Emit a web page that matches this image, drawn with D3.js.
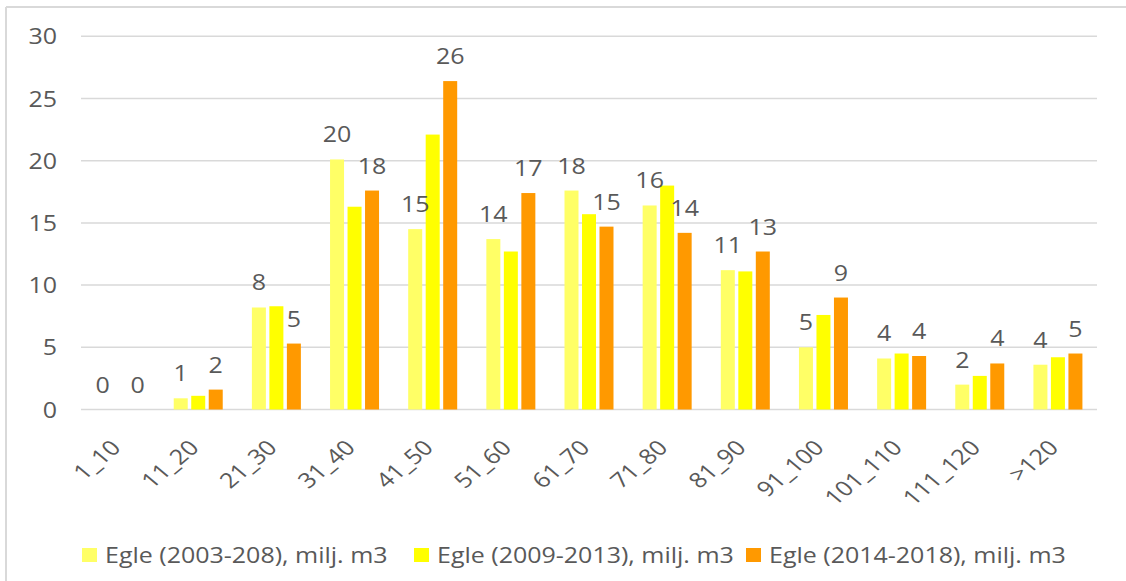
<!DOCTYPE html>
<html>
<head>
    <title>Egle by diameter class</title>
    <script src="https://d3js.org/d3.v7.min.js"></script>
    <style>
        body { margin: 0; background: #fff; }
        text { font-family: "Open Sans", sans-serif; fill: #595959; }
    </style>
</head>
<body>
    <div id="chart"></div>

    <script>
        const categories = ["1_10", "11_20", "21_30", "31_40", "41_50", "51_60", "61_70",
            "71_80", "81_90", "91_100", "101_110", "111_120", ">120"];

        const seriesNames = [
            "Egle (2003-208), milj. m3",
            "Egle (2009-2013), milj. m3",
            "Egle (2014-2018), milj. m3"
        ];

        const egle2003 = [0, 0.9, 8.2, 20.1, 14.5, 13.7, 17.6, 16.4, 11.2, 5.0, 4.1, 2.0, 3.6];
        const egle2009 = [0, 1.1, 8.3, 16.3, 22.1, 12.7, 15.7, 18.0, 11.1, 7.6, 4.5, 2.7, 4.2];
        const egle2014 = [0, 1.6, 5.3, 17.6, 26.4, 17.4, 14.7, 14.2, 12.7, 9.0, 4.3, 3.7, 4.5];

        const yTicks = [0, 5, 10, 15, 20, 25, 30];

        // the yellow series carries no data labels in the original
        const showLabel = [true, false, true];

        const colors = ["#ffff66", "#ffff00", "#ff9900"];

        const width = 1126;
        const height = 581;
        const stretch = 1.19; // text in the source image is drawn wide

        const seriesValues = [egle2003, egle2009, egle2014];

        const svg = d3.select("#chart")
            .append("svg")
            .attr("width", width)
            .attr("height", height);

        // chart frame (only top and left edges are visible in the crop)
        svg.append("line")
            .attr("x1", 6).attr("x2", width).attr("y1", 7).attr("y2", 7)
            .attr("stroke", "#d9d9d9").attr("stroke-width", 2);
        svg.append("line")
            .attr("x1", 6).attr("x2", 6).attr("y1", 7).attr("y2", height)
            .attr("stroke", "#d9d9d9").attr("stroke-width", 2);

        const xScale = d3.scaleBand()
            .domain(categories)
            .range([81, 1097]);

        const xInner = d3.scaleBand()
            .domain(d3.range(3))
            .range([-24.5, 24.5])
            .paddingInner(0.2);

        const yScale = d3.scaleLinear()
            .domain([0, 30])
            .range([409.5, 36.3]);

        // gridlines
        svg.selectAll(".grid")
            .data(yTicks)
            .enter()
            .append("line")
            .attr("class", "grid")
            .attr("x1", 81)
            .attr("x2", 1097)
            .attr("y1", d => yScale(d))
            .attr("y2", d => yScale(d))
            .attr("stroke", "#d9d9d9")
            .attr("stroke-width", 1.5);

        // y tick labels
        svg.selectAll(".ytick")
            .data(yTicks)
            .enter()
            .append("text")
            .attr("class", "ytick")
            .attr("transform", d => `translate(57,${yScale(d)}) scale(${stretch},1)`)
            .attr("text-anchor", "end")
            .attr("dominant-baseline", "central")
            .style("font-size", "21px")
            .text(d => d);

        // bars
        const barData = [];
        seriesValues.forEach((vals, s) => {
            vals.forEach((v, i) => barData.push({ s: s, cat: categories[i], value: v }));
        });

        const cx = d => xScale(d.cat) + xScale.bandwidth() / 2 + xInner(d.s);

        svg.selectAll(".bar")
            .data(barData)
            .enter()
            .append("rect")
            .attr("class", "bar")
            .attr("x", d => cx(d))
            .attr("y", d => yScale(d.value))
            .attr("width", xInner.bandwidth())
            .attr("height", d => yScale(0) - yScale(d.value))
            .attr("fill", d => colors[d.s]);

        // data labels
        svg.selectAll(".label")
            .data(barData.filter(d => showLabel[d.s]))
            .enter()
            .append("text")
            .attr("class", "label")
            .attr("transform", d => `translate(${cx(d) + xInner.bandwidth() / 2},${yScale(d.value) - 17}) scale(${stretch},1)`)
            .attr("text-anchor", "middle")
            .style("font-size", "21px")
            .text(d => Math.round(d.value));

        // x tick labels, rotated
        svg.selectAll(".xtick")
            .data(categories)
            .enter()
            .append("text")
            .attr("class", "xtick")
            .attr("transform", d => `translate(${xScale(d) + xScale.bandwidth() / 2 + 2},${449}) scale(${stretch},1) rotate(-45)`)
            .attr("text-anchor", "end")
            .style("font-size", "21px")
            .text(d => d);

        // legend
        const legendX = [82, 414, 746];
        const legend = svg.selectAll(".legend")
            .data(seriesNames)
            .enter()
            .append("g")
            .attr("class", "legend")
            .attr("transform", (d, i) => `translate(${legendX[i]},548)`);

        legend.append("rect")
            .attr("width", 15)
            .attr("height", 14)
            .attr("fill", (d, i) => colors[i]);

        legend.append("text")
            .attr("transform", `translate(23,15) scale(${stretch},1)`)
            .style("font-size", "21px")
            .text(d => d);
    </script>
</body>
</html>
